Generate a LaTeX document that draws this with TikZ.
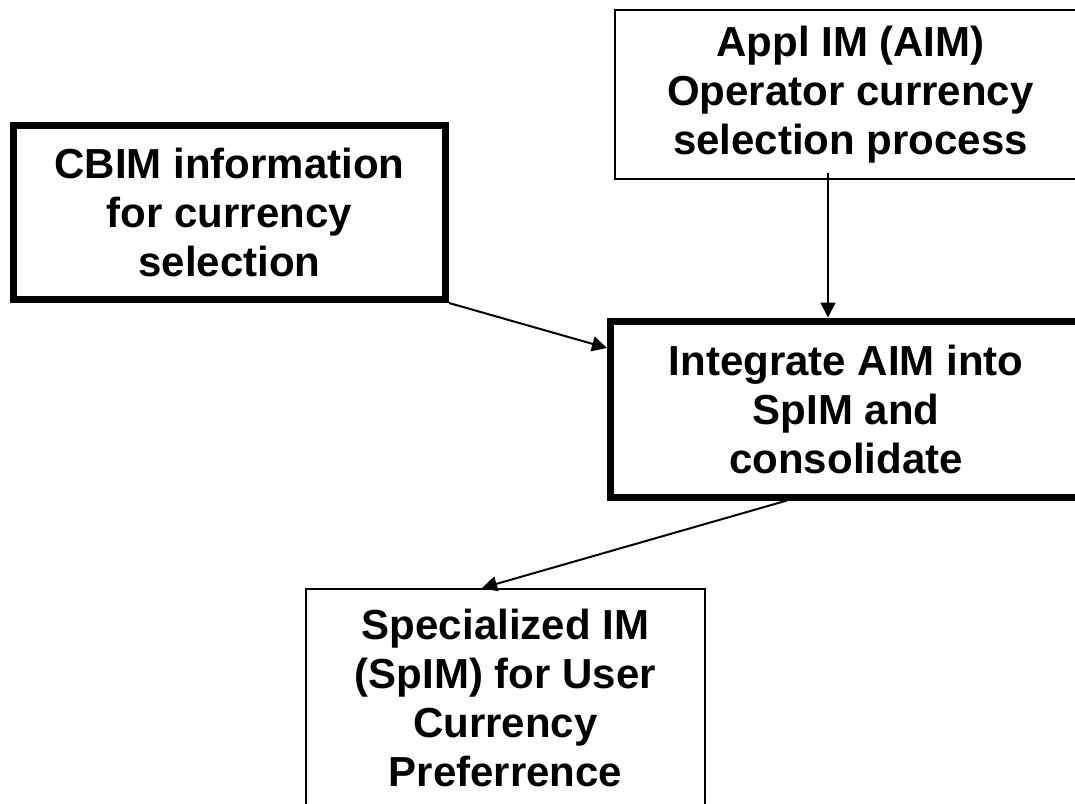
\documentclass[tikz,border=0pt]{standalone}
\usepackage{fontspec}
\setmainfont{Liberation Sans}
\usetikzlibrary{arrows.meta,calc}
\begin{document}
\begin{tikzpicture}[x=1pt,y=-1pt,
  boxtxt/.style={draw=black,fill=white,align=center,inner sep=0pt,
    font=\fontsize{42}{49}\selectfont\bfseries},
  thinbox/.style={boxtxt,line width=2pt},
  thickbox/.style={boxtxt,line width=7pt},
  arr/.style={line width=2pt,-{Triangle[length=15pt,width=15pt]}}]
\useasboundingbox (0,0) rectangle (1075,803);
\clip (0,0) rectangle (1075,803);
\fill[white] (0,0) rectangle (1075,803);
\node[thinbox,minimum width=471pt,minimum height=169pt] (aim) at (850.5,94.5)
  {Appl IM (AIM)\\Operator currency\\selection process};
\node[thickbox,minimum width=432pt,minimum height=174pt] (cbim) at (229.5,212.5)
  {CBIM information\\for currency\\selection};
\node[thickbox,minimum width=471pt,minimum height=176pt] (integ) at (846,409)
  {Integrate AIM into\\SpIM and\\consolidate};
\node[thinbox,minimum width=399pt,minimum height=218pt] (spim) at (505.5,698)
  {Specialized IM\\(SpIM) for User\\Currency\\Preferrence};
\draw[arr] ($(aim.south)+(-22.5,-7)$) -- ($(integ.north)+(-18,0)$);
\draw[arr] (cbim.south east) -- ($(integ.west)+(0,-61)$);
\draw[arr] ($(integ.south)+(-59,0)$) -- ($(spim.north)+(-23.5,0)$);
\end{tikzpicture}
\end{document}
